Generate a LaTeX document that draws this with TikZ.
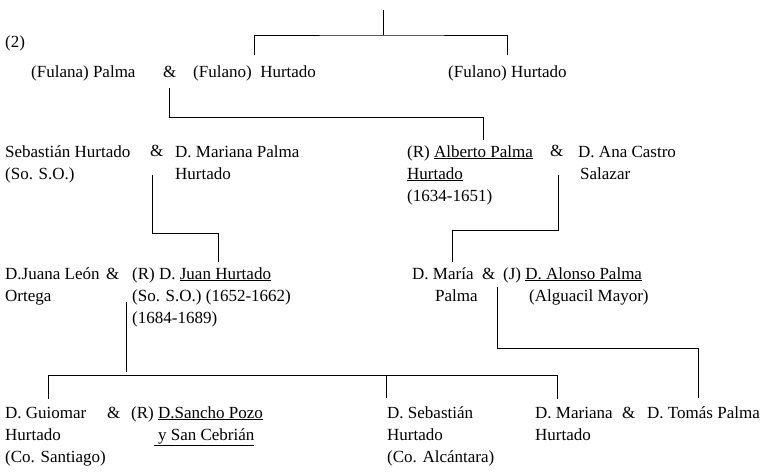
\documentclass[tikz,border=0pt]{standalone}
\usepackage{fontspec}
\setmainfont{Liberation Serif}
\usetikzlibrary{positioning}

\begin{document}
\begin{tikzpicture}[
    x=1pt, y=-1pt,
    person/.style={anchor=base west, inner sep=0pt, align=left, font=\fontsize{17}{22}\selectfont},
    link/.style={draw, line width=0.9pt}
]
\useasboundingbox (0,0) rectangle (766,476);

% Generation 1 (base = last line)
\node[person] (num) at (5,48) {(2)};
\node[person] (fulana) at (31,78) {(Fulana) Palma};
\node[person] (amp1) at (163,78) {\&};
\node[person] (fulano) at (193,78) {(Fulano)~ Hurtado};
\node[person] (fulanob) at (448,78) {(Fulano) Hurtado};

% Generation 2
\node[person] (sebastian) at (5,179) {Sebastián Hurtado\\(So. S.O.)};
\node[person] (amp2) at (150,157) {\&};
\node[person] (mariana) at (175,179) {D. Mariana Palma\\Hurtado};
\node[person] (alberto) at (407,201) {(R) \underline{Alberto Palma}\\\underline{Hurtado}\\(1634-1651)};
\node[person] (amp3) at (550,157) {\&};
\node[person] (ana) at (578,179) {D. Ana Castro\\\hspace*{2pt}Salazar};

% Generation 3
\node[person] (juana) at (5,301) {D.Juana León\\Ortega};
\node[person] (amp4) at (106,279) {\&};
\node[person] (juan) at (132,323) {(R) D. \underline{Juan Hurtado}\\(So. S.O.) (1652-1662)\\(1684-1689)};
\node[person, align=right] (maria) at (412,301) {D. María\\Palma\hspace*{-4pt}};
\node[person] (amp5) at (482,279) {\&};
\node[person] (alonso) at (503,301) {(J) \underline{D. Alonso Palma}\\\hspace*{26pt}(Alguacil Mayor)};

% Generation 4
\node[person] (guiomar) at (5,462) {D. Guiomar\\Hurtado\\(Co. Santiago)};
\node[person] (amp6) at (107,418) {\&};
\node[person] (sancho) at (131,440) {(R) \underline{D.Sancho Pozo}\\\phantom{(R)}\underline{\ y\ San Cebrián}};
\node[person] (sebastianb) at (387,462) {D. Sebastián\\Hurtado\\(Co. Alcántara)};
\node[person] (marianab) at (535,440) {D. Mariana\\Hurtado};
\node[person] (amp7) at (622,418) {\&};
\node[person] (tomas) at (647,418) {D. Tomás Palma};

% Lines of descent
\coordinate (root) at (383,10);
\coordinate (fork) at (383,35);
\draw[link] (root) -- (fork);
\draw[link] ([yshift=11pt]fulano.north) |- (fork) -| ([yshift=11pt]fulanob.north);

\draw[link] ([yshift=-10pt]amp1.south) -- ++(0,29) -| ([xshift=76pt,yshift=5pt]alberto.north west);
\draw[link] ([xshift=-4pt,yshift=-18pt]amp2.south) -- ++(0,58) -| ([xshift=86pt,yshift=5pt]juan.north west);
\draw[link] ([xshift=2pt,yshift=-18pt]amp3.south) -- ++(0,55) -| ([xshift=40pt,yshift=5pt]maria.north west);

\draw[link] ([xshift=14pt,yshift=-23pt]amp4.south) -- ++(0,70);
\draw[link] ([xshift=43pt,yshift=8pt]guiomar.north west) -- ++(0,-23) -| ([xshift=22pt,yshift=8pt]marianab.north west);
\draw[link] ([xshift=-1pt,yshift=8pt]sebastianb.north west) -- ++(0,-23);

\draw[link] ([xshift=9pt,yshift=-8pt]amp5.south) -- ++(0,61) -| ([xshift=51pt,yshift=8pt]tomas.north west);

\end{tikzpicture}
\end{document}
